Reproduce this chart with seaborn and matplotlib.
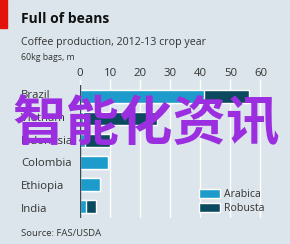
import matplotlib
matplotlib.use("Agg")
import matplotlib.pyplot as plt
import seaborn as sns
import pandas as pd
from matplotlib.patches import Rectangle, Patch

countries = ["Brazil", "Vietnam", "Indonesia", "Colombia", "Ethiopia", "India"]
arabica = [41.3, 1.0, 1.5, 9.3, 6.5, 2.0]
robusta = [14.8, 24.5, 8.5, 0.0, 0.0, 3.3]
xticks = [0, 10, 20, 30, 40, 50, 60]

BG = "#dbe5eb"
C_AR = "#1d9ccb"
C_RO = "#0b4a5e"
TXT = "#333333"

sns.set_theme(style="white")
plt.rcParams["font.family"] = ["Open Sans", "DejaVu Sans"]

df = pd.DataFrame({"country": countries, "arabica": arabica, "robusta": robusta})
df["total"] = df["arabica"] + df["robusta"]

fig = plt.figure(figsize=(2.90, 2.44), dpi=100, facecolor=BG)
ax = fig.add_axes([80/290, 1-218/244, 182/290, 133/244], facecolor=BG)

ax.set_axisbelow(True)
for t in xticks[1:]:
    ax.axvline(t, color="white", lw=1.0, zorder=0)

sns.barplot(data=df, y="country", x="total", color=C_RO, orient="h",
            width=0.58, ax=ax, saturation=1, zorder=2)
sns.barplot(data=df, y="country", x="arabica", color=C_AR, orient="h",
            width=0.58, ax=ax, saturation=1, zorder=3)

ax.axvline(0, color="#3a4a55", lw=1.0, zorder=4)
ax.set_xlim(0, 60.5)
ax.set_ylim(5.5, -0.5)
ax.xaxis.tick_top()
ax.set_xticks(xticks)
ax.set_xticklabels([str(t) for t in xticks], fontsize=8.2, color=TXT)
ax.tick_params(axis="x", length=4, color="white", width=1, pad=0)
ax.tick_params(axis="y", length=0, pad=0)
ax.set_yticklabels([])
ax.set_xlabel("")
ax.set_ylabel("")
for s in ax.spines.values():
    s.set_visible(False)

# category labels left aligned
for i, c in enumerate(countries):
    fig.text(21/290, 1-(96 + i*22.6)/244, c, fontsize=8.2, color=TXT,
             ha="left", va="center")

# title block
fig.patches.append(Rectangle((0, 1-28/244), 7/290, 28/244, transform=fig.transFigure,
                             color="#e3120b", zorder=5))
fig.text(21/290, 1-23/244, "Full of beans", fontsize=10, fontweight="bold",
         color="#111111", ha="left", va="baseline")
fig.text(21/290, 1-45/244, "Coffee production, 2012-13 crop year", fontsize=7.7,
         color=TXT, ha="left", va="baseline")
fig.text(21/290, 1-60/244, "60kg bags, m", fontsize=6.3, color=TXT,
         ha="left", va="baseline")
fig.text(21/290, 1-236/244, "Source: FAS/USDA", fontsize=6.8, color=TXT,
         ha="left", va="baseline")

# legend
handles = [Patch(facecolor=C_AR, label="Arabica"), Patch(facecolor=C_RO, label="Robusta")]
leg = fig.legend(handles=handles, loc="upper left", bbox_to_anchor=(199/290, 1-189/244),
                 frameon=False, fontsize=7.6, handlelength=2.0, handleheight=0.9,
                 handletextpad=0.4, labelspacing=0.3, borderpad=0, borderaxespad=0)
for t in leg.get_texts():
    t.set_color(TXT)

# watermark
fig.text(146/290, 1-125/244, "智能化资讯", fontsize=38.5, fontweight="bold",
         color="#9b2fe0", ha="center", va="center",
         family=["Noto Sans CJK SC", "DejaVu Sans"], zorder=10)

fig.savefig("out.png", dpi=100, facecolor=BG)
